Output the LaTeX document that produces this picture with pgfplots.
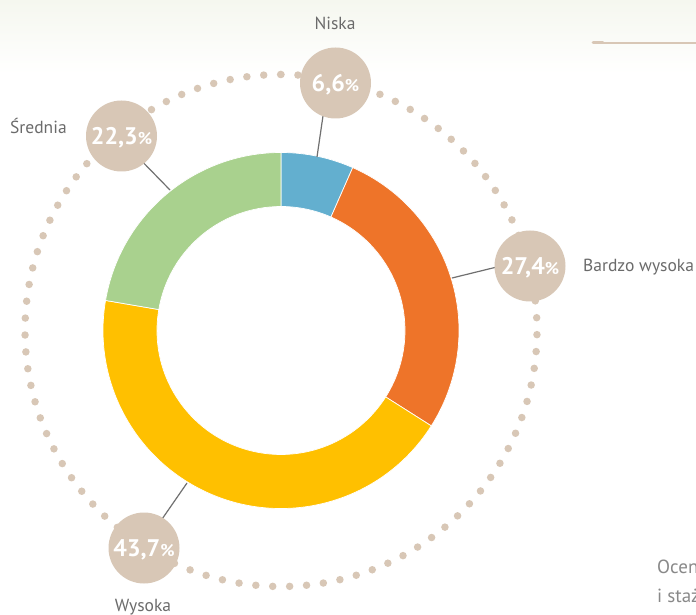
\documentclass[border=0pt]{standalone}
\usepackage{pgfplots}
\pgfplotsset{compat=1.18}
\usepackage{fontspec}
\setmainfont{PT Sans}
\usetikzlibrary{calc}
\definecolor{cBlue}{HTML}{63AFCF}
\definecolor{cOrange}{HTML}{EE7429}
\definecolor{cYellow}{HTML}{FFC000}
\definecolor{cGreen}{HTML}{A9D18E}
\definecolor{bub}{HTML}{D8C7B6}
\definecolor{lead}{HTML}{707070}
\definecolor{lab}{HTML}{6B6B6B}
\definecolor{topc}{HTML}{F5F7EF}
\newcommand\donutwedge[3]{\fill[#3,draw=white,line width=0.7pt] ($(C)+(#1:178pt)$) arc[start angle=#1,end angle=#2,radius=178pt] -- ($(C)+(#2:124pt)$) arc[start angle=#2,end angle=#1,radius=124pt] -- cycle;}
\newcommand\pct[1]{{\fontsize{24}{24}\selectfont\bfseries #1}{\fontsize{17}{17}\selectfont\bfseries\%}}
\begin{document}
\begin{tikzpicture}
% data: Niska, Bardzo wysoka, Wysoka, Srednia
\def\vA{6.6}\def\vB{27.4}\def\vC{43.7}\def\vD{22.3}
\pgfmathsetmacro\aA{90}
\pgfmathsetmacro\aB{\aA-3.6*\vA}
\pgfmathsetmacro\aC{\aB-3.6*\vB}
\pgfmathsetmacro\aD{\aC-3.6*\vC}
\pgfmathsetmacro\aE{\aD-3.6*\vD}
\begin{axis}[width=696pt,height=614pt,scale only axis,xmin=0,xmax=696,ymin=0,ymax=614,hide axis]
\fill[white] (axis cs:0,0) rectangle (axis cs:696,614);
\shade[top color=topc,bottom color=white] (axis cs:0,540) rectangle (axis cs:696,614);
\draw[bub,line width=1.2pt] (axis cs:598,571) -- (axis cs:696,571);
\draw[bub,line width=2.6pt,line cap=round] (axis cs:593,571.3) -- (axis cs:603,571.3);
\coordinate (C) at (axis cs:281,283.5);
% dotted ring
\draw[bub,line width=7.5pt,line cap=round,dash pattern=on 0pt off 16.93pt] ($(C)+(90:256pt)$) arc[start angle=90,end angle=-270,radius=256pt];
% donut
\donutwedge{\aA}{\aB}{cBlue}
\donutwedge{\aB}{\aC}{cOrange}
\donutwedge{\aC}{\aD}{cYellow}
\donutwedge{\aD}{\aE}{cGreen}
% leader lines
\draw[lead,line width=1.2pt] (axis cs:317,457) -- (axis cs:324,505);
\draw[lead,line width=1.2pt] (axis cs:452,336) -- (axis cs:505,349);
\draw[lead,line width=1.2pt] (axis cs:187,131) -- (axis cs:160,92);
\draw[lead,line width=1.2pt] (axis cs:170,424) -- (axis cs:130,465);
% bubbles
\fill[bub] (axis cs:335.5,531) circle[radius=35.5pt];
\fill[bub] (axis cs:530,348) circle[radius=35.5pt];
\fill[bub] (axis cs:144,66) circle[radius=35.5pt];
\fill[bub] (axis cs:121.5,478) circle[radius=35.5pt];
\node[white,anchor=base,inner sep=0pt] at (axis cs:335.5,522.5) {\pct{6,6}};
\node[white,anchor=base,inner sep=0pt] at (axis cs:530,339.5) {\pct{27,4}};
\node[white,anchor=base,inner sep=0pt] at (axis cs:144,57.5) {\pct{43,7}};
\node[white,anchor=base,inner sep=0pt] at (axis cs:121.5,469.5) {\pct{22,3}};
% labels
\node[lab,anchor=base,inner sep=0pt,font=\fontsize{17.5}{17.5}\selectfont] at (axis cs:335,584) {Niska};
\node[lab,anchor=base west,inner sep=0pt,font=\fontsize{17.5}{17.5}\selectfont] at (axis cs:10,480) {Średnia};
\node[lab,anchor=base west,inner sep=0pt,font=\fontsize{17.5}{17.5}\selectfont] at (axis cs:583,342) {Bardzo wysoka};
\node[lab,anchor=base,inner sep=0pt,font=\fontsize{17.5}{17.5}\selectfont] at (axis cs:143,3) {Wysoka};
\node[lab!80,anchor=base west,inner sep=0pt,font=\fontsize{19}{19}\selectfont] at (axis cs:657,41) {Ocena};
\node[lab!80,anchor=base west,inner sep=0pt,font=\fontsize{19}{19}\selectfont] at (axis cs:657,12) {i staż};
\end{axis}
\end{tikzpicture}
\end{document}
